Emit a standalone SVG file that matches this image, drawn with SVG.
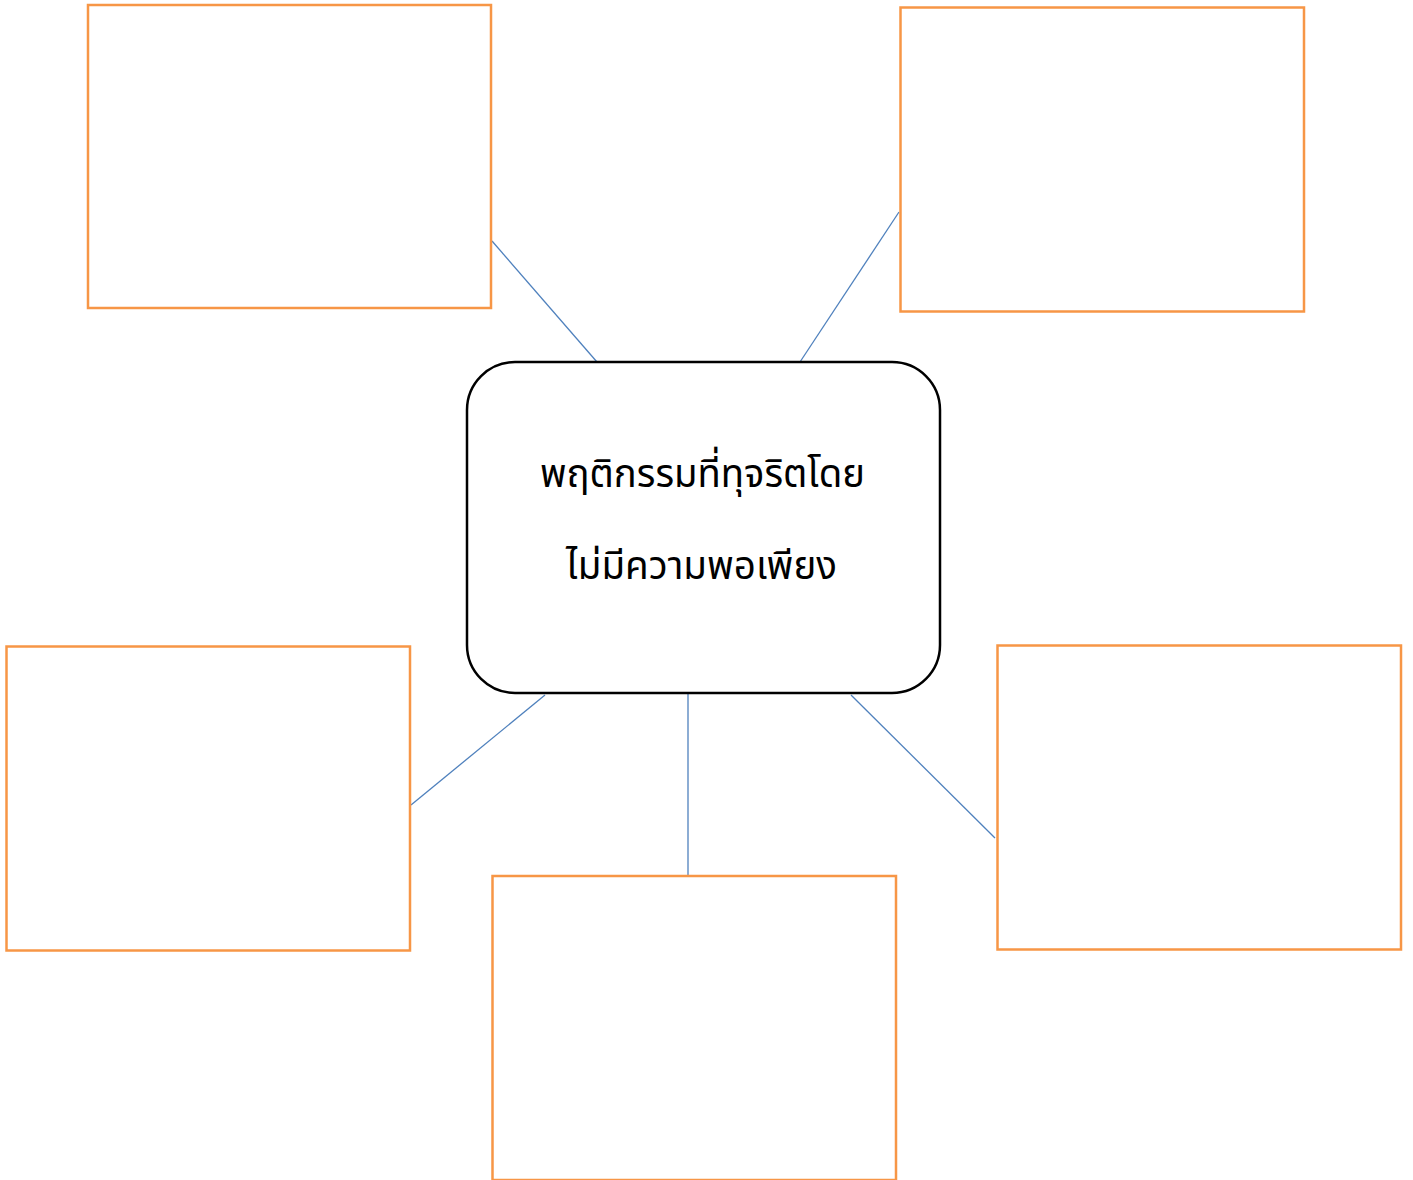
<svg xmlns="http://www.w3.org/2000/svg" width="1413" height="1180" viewBox="0 0 1413 1180">
<style>
.box{fill:#FFFFFF;stroke:#F79646;stroke-width:2.5}
.center{fill:#FFFFFF;stroke:#000000;stroke-width:2.5}
.conn{stroke:#4F81BD;stroke-width:1.3;fill:none}
.lbl{font-family:"Noto Sans Thai","Leelawadee UI","Tahoma","Noto Sans","DejaVu Sans",sans-serif;font-size:40px;fill:#000000;text-anchor:middle}
</style>
<rect width="1413" height="1180" fill="#FFFFFF"/>
<g id="connectors">
<line class="conn" x1="492" y1="241" x2="597" y2="362"/>
<line class="conn" x1="899" y1="212" x2="800" y2="362"/>
<line class="conn" x1="411" y1="805" x2="545" y2="695"/>
<line class="conn" x1="688" y1="694" x2="688" y2="875"/>
<line class="conn" x1="851" y1="695" x2="995" y2="838"/>
</g>
<g id="box-top-left"><rect class="box" x="88" y="5" width="403" height="303"/></g>
<g id="box-top-right"><rect class="box" x="900.5" y="7.5" width="403.5" height="304"/></g>
<g id="box-bottom-left"><rect class="box" x="6.5" y="646.5" width="403.5" height="304"/></g>
<g id="box-bottom-right"><rect class="box" x="997.5" y="645.5" width="403.5" height="304"/></g>
<g id="box-bottom"><rect class="box" x="492.5" y="876" width="403.5" height="304"/></g>
<g id="center">
<rect class="center" x="467" y="362" width="473" height="331" rx="48" ry="48"/>
<text class="lbl" x="702.5" y="487" textLength="325" lengthAdjust="spacingAndGlyphs">พฤติกรรมที่ทุจริตโดย</text>
<text class="lbl" x="701.5" y="579" textLength="271" lengthAdjust="spacingAndGlyphs">ไม่มีความพอเพียง</text>
</g>
</svg>
